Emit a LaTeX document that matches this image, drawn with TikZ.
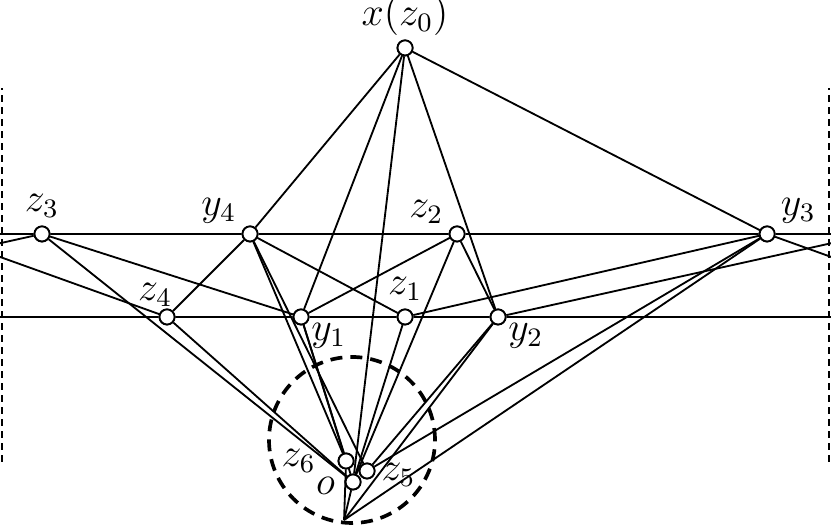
\documentclass[tikz,border=0pt]{standalone}
\usepackage{amssymb}
\usepackage{tikz}

\tikzset{tag/.style={rectangle, draw=none, fill=none, inner sep=1pt, font=\large}}

\begin{document}
\begin{tikzpicture}[scale=1.054, line width=0.55pt, every node/.style={circle,
                                  draw,
                                  fill=white,
                                  inner
                                  sep=1.6pt}]
                      \useasboundingbox (0,0) rectangle (8.31,5.26);
                      \node (x0) at (4.05, 4.78) {};
                      \node (z3) at (0.42, 2.92) {};
                      \node (y4) at (2.50, 2.92) {};
                      \node (z2) at (4.57, 2.92) {};
                      \node (y3) at (7.67, 2.92) {};
                      \node (z4) at (1.67, 2.09) {};
                      \node (y1) at (3.01, 2.09) {};
                      \node (z1) at (4.05, 2.09) {};
                      \node (y2) at (4.98, 2.09) {};
                      \node (z6) at (3.46, 0.65) {};
                      \node (o) at (3.53, 0.44) {};
                      \node (z5) at (3.67, 0.55) {};
                      \coordinate (b) at (3.44, 0.06);

                      % ends of the strip, and where lines leave and come back
                      \coordinate (tl) at (0, 2.92);
                      \coordinate (tr) at (8.31, 2.92);
                      \coordinate (bl) at (0, 2.09);
                      \coordinate (br) at (8.31, 2.09);
                      \coordinate (wl) at (0, 2.827);
                      \coordinate (wr) at (8.31, 2.827);
                      \coordinate (vl) at (0, 2.69);
                      \coordinate (vr) at (8.31, 2.69);

                      \node[tag, anchor=south] at (x0.north) {$x(z_0)$};
                      \node[tag, anchor=south] at ([yshift=1pt]z3.north) {$z_3$};
                      \node[tag, anchor=south east] at ([xshift=-1pt]y4.north west) {$y_4$};
                      \node[tag, anchor=south east] at ([xshift=-1pt]z2.north west) {$z_2$};
                      \node[tag, anchor=south west] at ([xshift=1pt]y3.north east) {$y_3$};
                      \node[tag, anchor=south east] at ([xshift=1pt]z4.north east) {$z_4$};
                      \node[tag, anchor=north west] at ([yshift=1pt]y1.south east) {$y_1$};
                      \node[tag, anchor=south] at ([yshift=1pt]z1.north) {$z_1$};
                      \node[tag, anchor=north west] at ([yshift=1pt]y2.south east) {$y_2$};
                      \node[tag, anchor=east] at ([xshift=-5pt]z6.west) {$z_6$};
                      \node[tag, anchor=east] at ([xshift=-1.5pt, yshift=-1pt]o.west) {$o$};
                      \node[tag, anchor=west] at ([xshift=0.5pt, yshift=-1pt]z5.east) {$z_5$};

                      \draw (tl) -- (z3) -- (y4) -- (z2) -- (y3) -- (tr);
                      \draw (bl) -- (z4) -- (y1) -- (z1) -- (y2) -- (br);

                      \foreach \i/\j in {x0/y4, x0/y1, x0/o, x0/y2, x0/y3,
                                         z3/y1, z3/o, z4/o, z4/y4,
                                         y4/z1, y4/z6, y4/z5,
                                         y1/z2, y1/z6, y1/o,
                                         z2/y2, z2/o, z1/y3, z1/o,
                                         y2/z5, y2/b, y3/z5, y3/b,
                                         b/z6, b/o} {
                              \draw (\i) -- (\j);
                          }

                      % lines that go round the back
                      \draw (z3) -- (wl);
                      \draw (wr) -- (y2);
                      \draw (y3) -- (vr);
                      \draw (vl) -- (z4);

                      \draw[line width=0.7pt, dash pattern=on 2.1pt off 1.5pt] (0.02, 0.64) -- (0.02, 4.38);
                      \draw[line width=0.7pt, dash pattern=on 2.1pt off 1.5pt] (8.29, 0.64) -- (8.29, 4.38);
                      \draw[line width=1.1pt, dash pattern=on 3.6pt off 2.4pt] (3.52, 0.86) circle (0.83);

                      % points again, on top
                      \foreach \p in {x0, z3, y4, z2, y3, z4, y1, z1, y2, z6, o, z5} {
                              \node at (\p) {};
                          }
                  \end{tikzpicture}
\end{document}
